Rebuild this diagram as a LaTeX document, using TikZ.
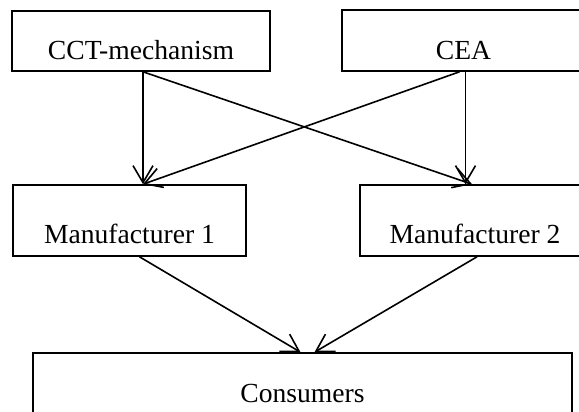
\documentclass[tikz,border=0pt]{standalone}
\usepackage{fontspec}
\setmainfont{Liberation Serif}
\usepackage{tikz}
\usetikzlibrary{arrows.meta}

\begin{document}
\begin{tikzpicture}[x=0.5pt,y=0.5pt]
\tikzstyle{every node}+=[inner sep=0pt]
\tikzstyle{box}=[draw=black, line width=0.8pt, rectangle, text depth=0pt, font=\fontsize{13.8}{15}\selectfont]
\tikzstyle{flow}=[draw=black, line width=0.8pt, -{Straight Barb[length=8.5pt,width=10pt]}]
\useasboundingbox (0,0) rectangle (579,-412);
\clip (0,0) rectangle (579,-412);
\draw (141,-41) node [box, minimum width=129pt, minimum height=30pt, text height=19pt] (cct) {CCT-mechanism};
\draw (463.5,-40.5) node [box, minimum width=121.5pt, minimum height=30.5pt, text height=18.5pt] (cea) {CEA};
\draw (129.5,-220.5) node [box, minimum width=116.5pt, minimum height=35.5pt, text height=22.5pt] (man1) {Manufacturer 1};
\draw (475,-220.5) node [box, minimum width=115pt, minimum height=35.5pt, text height=22.5pt] (man2) {Manufacturer 2};
\draw (302.5,-393) node [box, minimum width=269.5pt, minimum height=40pt, text height=9pt] (cons) {Consumers};
\draw [flow] ([xshift=1pt]cct.south) -- ([xshift=1pt]cct.south |- man1.north);
\draw [flow] ([xshift=1pt]cct.south) -- ([xshift=-1.5pt]man2.north);
\draw [flow] ([xshift=-2pt]cea.south) -- ([xshift=1pt]cct.south |- man1.north);
\draw [flow] ([xshift=1pt]cea.south) -- ([xshift=1pt]cea.south |- man2.north);
\draw [flow] ([xshift=5pt]man1.south) -- ([xshift=-1pt]cons.north);
\draw [flow] ([xshift=1pt]man2.south) -- ([xshift=6pt]cons.north);
\end{tikzpicture}
\end{document}
